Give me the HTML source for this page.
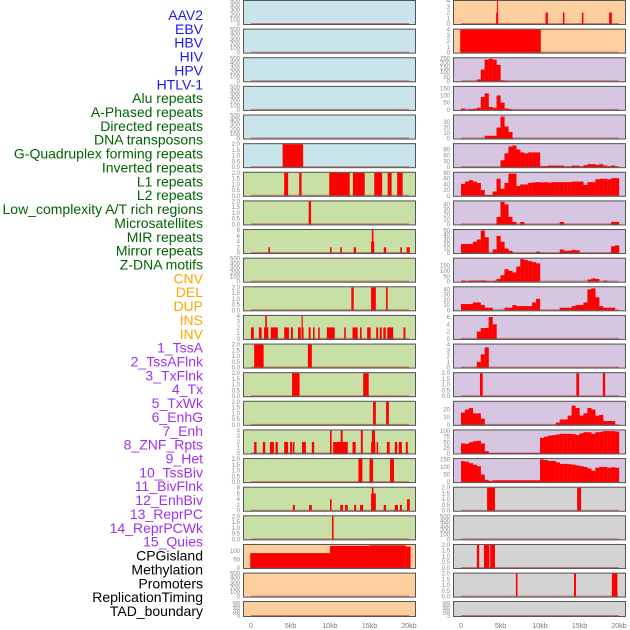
<!DOCTYPE html>
<html><head><meta charset="utf-8"><style>
html,body{margin:0;padding:0;background:#fff;width:630px;height:630px;overflow:hidden}
svg{display:block;font-family:"Liberation Sans",sans-serif}
</style></head><body>
<svg id="chart" width="630" height="630" viewBox="0 0 630 630" xmlns="http://www.w3.org/2000/svg"></svg>
<script>
// ---- track labels ----
const labels = ["AAV2","EBV","HBV","HIV","HPV","HTLV-1","Alu repeats","A-Phased repeats","Directed repeats","DNA transposons","G-Quadruplex forming repeats","Inverted repeats","L1 repeats","L2 repeats","Low_complexity A/T rich regions","Microsatellites","MIR repeats","Mirror repeats","Z-DNA motifs","CNV","DEL","DUP","INS","INV","1_TssA","2_TssAFlnk","3_TxFlnk","4_Tx","5_TxWk","6_EnhG","7_Enh","8_ZNF_Rpts","9_Het","10_TssBiv","11_BivFlnk","12_EnhBiv","13_ReprPC","14_ReprPCWk","15_Quies","CPGisland","Methylation","Promoters","ReplicationTiming","TAD_boundary"];
const labelGroups = [6,13,5,15,5];
const xTickValues = [0,5,10,15,20];
const xTickLabels = ["0","5kb","10kb","15kb","20kb"];

// ---- left column data (segments: [startKb, endKb, value]) ----
const L5 = [[4.0,6.6,2]];
const L6 = [[4.2,4.7,2],[6.1,6.4,2],[9.9,12.5,2],[12.9,14.4,2],[15.6,16.6,2],[17.3,17.8,2],[18.5,19.2,2]];
const L7 = [[7.3,7.6,2]];
const L8 = [[2.2,2.4,2],[10.0,10.2,2],[11.3,11.5,2],[13.0,13.3,2],[15.2,15.6,4],[15.3,15.5,8],[16.8,17.1,2],[18.9,19.1,2],[19.7,20.1,2]];
const L10 = [[12.7,13.0,2],[15.2,15.8,2],[17.1,17.3,2]];
const L11 = [[0,0.35,2],[1.0,1.35,2],[1.65,2.2,2],[1.8,2.0,4],[2.5,3.4,2],[4.2,4.8,2],[5.05,5.3,2],[5.95,6.3,2],[6.4,6.65,2],[6.4,6.55,4],[7.3,7.55,2],[7.85,8.05,2],[8.5,8.7,2],[9.6,10.6,2],[11.8,12.0,2],[12.85,13.5,2],[13.8,14.0,2],[14.7,15.15,2],[15.85,16.1,2],[16.3,16.55,2],[16.75,17.05,2],[17.25,18.0,2],[19.3,19.55,2]];
const L12 = [[0.4,1.6,2],[7.2,7.7,2]];
const L13 = [[5.2,6.15,2],[14.2,14.9,2]];
const L14 = [[15.45,15.8,2],[17.1,17.45,2]];
const L15 = [[0.4,0.7,2],[1.5,1.8,2],[2.4,2.9,2],[3.1,3.4,2],[4.2,4.7,2],[4.95,5.2,2],[5.3,5.5,2],[6.45,6.95,2],[7.7,8.0,2],[10.4,12.25,2],[12.85,13.25,2],[15.2,15.75,2],[15.9,16.1,2],[17.2,17.55,2],[18.2,18.5,2],[18.7,19.1,2],[19.6,19.85,2],[10.0,10.2,4],[11.35,11.6,4],[13.9,14.15,4],[15.3,15.7,4]];
const L16 = [[13.6,14.1,2],[15.0,15.45,2],[17.6,18.1,2]];
const L17 = [[5.3,5.55,2],[7.35,7.7,2],[10.0,10.2,4],[11.3,11.65,2],[11.9,12.25,2],[13.05,13.3,2],[13.8,14.2,2],[15.2,15.8,6],[15.3,15.5,8],[16.8,17.1,2],[18.2,18.6,2],[18.85,19.1,2],[19.75,20.1,4]];
const L18 = [[10.25,10.45,2]];
const L19 = [[-0.1,10,87],[10,15,130],[15,19.6,133],[19.6,20.2,126]];

// ---- right column data (bins of 0.5 kb from 0 to 20 kb, or segments) ----
const R0 = [[4.45,4.7,2],[4.55,4.65,4],[10.7,11.0,2],[12.9,13.1,2],[15.3,15.5,2],[18.75,19.1,2]];
const R1 = [[-0.1,10.1,4]];
const R2 = [0,0,0,0,20,130,240,250,240,180,10,5,0,0,0,0,0,0,0,0,0,0,0,0,0,0,0,0,0,0,0,0,0,0,0,0,0,0,0,0];
const R3 = [10,0,5,8,15,90,115,20,15,100,50,10,5,0,0,0,0,0,0,0,0,0,0,0,0,0,0,0,0,0,0,0,0,0,0,0,0,0,0,0];
const R4 = [0,0,0,0,0,0,5,5,5,20,40,22,12,0,0,0,0,0,0,0,0,0,0,0,0,0,0,0,0,0,0,0,0,0,0,0,0,0,0,0];
const R5 = [0,0,0,0,0,0,0,0,0,0,35,70,105,110,90,75,70,75,75,75,5,5,8,8,8,8,3,3,8,8,3,10,15,15,12,15,8,5,8,3];
const R6 = [42,50,55,50,45,20,3,3,15,60,25,45,78,78,35,40,40,45,47,48,47,48,46,48,48,48,48,48,50,50,50,38,48,48,58,60,60,58,62,62];
const R7 = [0,0,0,0,0,0,0,0,0,15,45,40,15,5,0,5,0,0,0,0,0,0,0,0,0,5,0,0,0,0,0,0,0,0,0,0,0,0,5,5];
const R8 = [20,20,20,25,30,50,35,0,8,38,25,10,5,0,0,0,0,0,0,3,0,0,0,0,0,8,5,5,7,6,0,0,0,0,0,0,0,0,15,17];
const R9 = [10,5,10,10,10,12,8,3,8,25,60,115,100,85,140,210,200,190,180,170,0,0,0,0,0,0,0,0,0,0,0,0,20,30,25,0,10,0,0,0];
const R10 = [12,12,12,15,15,10,5,5,0,0,0,5,5,10,8,8,8,8,15,22,0,0,0,0,0,5,5,5,8,10,10,15,40,42,25,8,5,5,5,0];
const R11 = [0,0,0,0,2,3,3,6,4,0,0,0,0,0,0,0,0,0,0,0,0,0,0,0,0,0,0,0,0,0,0,0,0,0,0,0,0,0,0,0];
const R12 = [0,0,0,0,1,2.3,3.5,0,0,0,0,0,0,0,0,0,0,0,0,0,0,0,0,0,0,0,0,0,0,0,0,0,0,0,0,0,0,0,0,0];
const R13 = [[2.4,2.75,2],[14.6,14.95,2],[17.95,18.25,2]];
const R14 = [16,20,22,15,15,8,0,0,0,0,0,0,0,0,0,0,0,0,0,0,0,0,0,0,3,7,7,12,25,22,12,15,22,20,12,13,5,5,5,0];
const R15 = [45,43,50,55,57,45,10,2,2,2,2,2,2,2,2,2,2,2,2,2,70,75,80,82,85,88,88,88,87,83,90,95,95,88,95,97,100,100,100,98];
const R16 = [138,135,125,115,105,50,15,8,12,12,12,12,12,12,12,12,12,12,12,12,150,145,140,140,130,120,120,118,115,110,105,100,90,75,95,100,100,95,98,95];
const R17 = [[3.3,4.3,2],[14.7,15.2,2]];
const R19 = [[2.0,2.3,2],[2.9,3.6,2],[3.7,4.3,2]];
const R20 = [[6.95,7.15,2],[14.3,14.55,2],[19.1,19.8,2]];

// ---- tick label sets ----
const T500 = [0,100,200,300,400,500];
const T2 = [0,0.5,1,1.5,2];
const T4 = [0,1,2,3,4];
const T8 = [0,2,4,6,8];

// panel layout config: [bg, ymax, ticks, data, kind]
const BLUE="#c9e4eb",GREEN="#c8e0a5",ORANGE="#fecf9e",PURPLE="#d6c6e1",GRAY="#d3d3d3";
const leftCfg = [
 [BLUE,500,T500,null],[BLUE,500,T500,null],[BLUE,500,T500,null],[BLUE,500,T500,null],[BLUE,500,T500,null],
 [BLUE,2,T2,L5],[GREEN,2,T2,L6],[GREEN,2,T2,L7],[GREEN,8,T8,L8],[GREEN,500,T500,null],
 [GREEN,2,T2,L10],[GREEN,4,T4,L11],[GREEN,2,T2,L12],[GREEN,2,T2,L13],[GREEN,2,T2,L14],
 [GREEN,4,T4,L15],[GREEN,2,T2,L16],[GREEN,8,T8,L17],[GREEN,2,T2,L18],[ORANGE,135,[0,50,100],L19],
 [ORANGE,500,T500,null],[ORANGE,500,T500,null]];
const rightCfg = [
 [ORANGE,4,T4,R0],[ORANGE,4,T4,R1],[PURPLE,255,[0,50,100,150,200,250],R2],[PURPLE,160,[0,50,100,150],R3],
 [PURPLE,42,[0,10,20,30],R4],[PURPLE,117,[0,30,60,90],R5],[PURPLE,81,[0,20,40,60,80],R6],
 [PURPLE,46,[0,10,20,30,40],R7],[PURPLE,51,[0,10,20,30,40,50],R8],[PURPLE,213,[0,50,100,150],R9],
 [PURPLE,44,[0,10,20,30,40],R10],[PURPLE,6.3,[0,2,4,6],R11],[PURPLE,4,T4,R12],[PURPLE,2,T2,R13],
 [PURPLE,30,[0,10,20],R14],[PURPLE,103,[0,25,50,75,100],R15],[PURPLE,152,[0,50,100,150],R16],
 [GRAY,2,T2,R17],[GRAY,500,T500,null],[GRAY,2,T2,R19],[GRAY,2,T2,R20],[GRAY,500,T500,null]];

const NS="http://www.w3.org/2000/svg";
const svg=document.getElementById('chart');
function mk(tag,attrs,parent){const e=document.createElementNS(NS,tag);for(const k in attrs)e.setAttribute(k,attrs[k]);(parent||svg).appendChild(e);return e;}

// labels
const groupColors=["#1a1aee","#006400","#ffa500","#a030f0","#000000"];
let li=0;
labelGroups.forEach((n,g)=>{for(let k=0;k<n;k++){
  const t=mk('text',{x:203,y:15+li*13.86+5,'text-anchor':'end','font-size':14,fill:groupColors[g]});
  t.textContent=labels[li];
  
  
  li++;}});

function panel(cfg,i,px,x0){
  const [bg,ymax,ticks,data]=cfg;
  const top=i<21? i*28.63 : 601;
  const h=i<21?25:16;
  const g=mk('g',{});
  
  
  const pw=173;
  mk('rect',{x:px,y:top,width:pw,height:h,fill:bg},g);
  const y0=top+h-1, y1=top+1;
  const yS=v=>y0-(v/ymax)*(y0-y1);
  const xS=k=>x0+k*7.9;
  const clipX=x=>Math.max(px+0.5,Math.min(px+pw-0.5,x));
  if(data){
    if(typeof data[0]==='number'){
      data.forEach((v,b)=>{if(v<=0)return;
        const a=xS(b*0.5),c=xS(b*0.5+0.5);
        const r=mk('rect',{x:a,y:yS(v),width:c-a+0.15,height:y0-yS(v),fill:'#ff0000'},g);
        
        });
    } else {
      data.forEach(s=>{const a=clipX(xS(s[0])),c=clipX(xS(s[1]));
        const r=mk('rect',{x:a,y:yS(s[2]),width:Math.max(1,c-a),height:y0-yS(s[2]),fill:'#ff0000'},g);
        
        });
    }
  }
  // baseline
  mk('line',{x1:xS(0),x2:xS(20),y1:y0-0.5,y2:y0-0.5,stroke:'rgba(190,40,40,0.55)','stroke-width':1},g);
  mk('rect',{x:px+0.5,y:top+0.5,width:pw-1,height:h-1,fill:'none',stroke:'#555','stroke-width':1},g);
  ticks.forEach(t=>{const tx=mk('text',{x:px-3,y:yS(t)+2,'text-anchor':'end','font-size':h<20?4.5:6,fill:'#888'},g);
    tx.textContent=(ticks===T2)?t.toFixed(1):String(t);});
}
leftCfg.forEach((c,i)=>panel(c,i,243,251));
rightCfg.forEach((c,i)=>panel(c,i,453,461));

// x axes
[251,461].forEach((x0,ai)=>{xTickValues.forEach((v,j)=>{
  const t=mk('text',{x:x0+v*7.9,y:628,'text-anchor':'middle','font-size':7,fill:'#777'});
  t.textContent=xTickLabels[j];
  
  });});
</script>
</body></html>
